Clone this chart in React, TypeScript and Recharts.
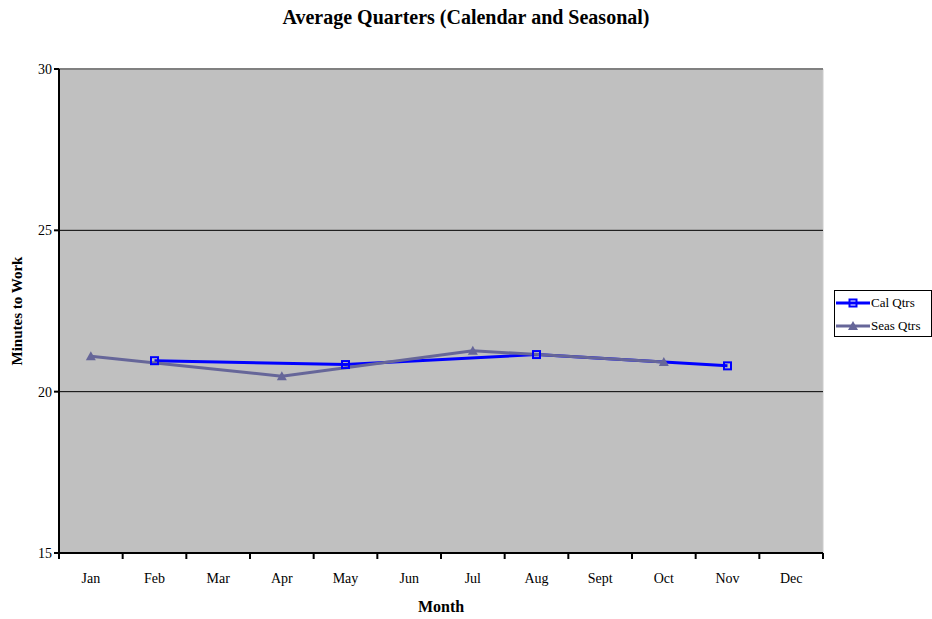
import React from "react";
import { LineChart, Line, XAxis, YAxis, CartesianGrid, ReferenceLine, Label } from "recharts";

const months = ["Jan", "Feb", "Mar", "Apr", "May", "Jun", "Jul", "Aug", "Sept", "Oct", "Nov", "Dec"];
const calQtrs: (number | null)[] = [null, 20.96, null, null, 20.84, null, null, 21.15, null, null, 20.8, null];
const seasQtrs: (number | null)[] = [21.1, null, null, 20.48, null, null, 21.27, null, null, 20.92, null, null];
const yTicks = [15, 20, 25, 30];
const gridValues = [20, 25];

const data = months.map((m, i) => ({ month: m, cal: calQtrs[i], seas: seasQtrs[i] }));

const W = 932;
const H = 619;
const PLOT_LEFT = 59;
const PLOT_RIGHT = 823;
const BAND = (PLOT_RIGHT - PLOT_LEFT) / months.length;

const CAL_COLOR = "#0000ff";
const SEAS_COLOR = "#666699";
const FONT = "'Liberation Serif', 'Times New Roman', serif";

const SquareDot = (props: any) => {
  const { cx, cy, value } = props;
  if (value == null || cx == null || cy == null) return null;
  return <rect x={cx - 3.5} y={cy - 3.5} width={7} height={7} fill="none" stroke={CAL_COLOR} strokeWidth={2} />;
};

const TriangleDot = (props: any) => {
  const { cx, cy, value } = props;
  if (value == null || cx == null || cy == null) return null;
  return <path d={`M${cx},${cy - 5} L${cx + 5},${cy + 4} L${cx - 5},${cy + 4} Z`} fill={SEAS_COLOR} />;
};

const MonthTick = (props: any) => {
  const { x, y, payload, index } = props;
  const left = x - BAND / 2;
  const right = x + BAND / 2;
  return (
    <g>
      <line x1={left} y1={y - 8} x2={left} y2={y - 2} stroke="#000" strokeWidth={2} />
      {index === months.length - 1 && (
        <line x1={right} y1={y - 8} x2={right} y2={y - 2} stroke="#000" strokeWidth={2} />
      )}
      <text x={x} y={y + 22} textAnchor="middle" fontFamily={FONT} fontSize={14} fill="#000">
        {payload.value}
      </text>
    </g>
  );
};

const LegendIcon = ({ color, kind }: { color: string; kind: "square" | "triangle" }) => (
  <svg width={34} height={10} style={{ display: "block" }}>
    <line x1={0} y1={5} x2={34} y2={5} stroke={color} strokeWidth={3} />
    {kind === "square" ? (
      <rect x={13.5} y={1.5} width={7} height={7} fill="none" stroke={color} strokeWidth={2} />
    ) : (
      <path d="M17,0 L22,9 L12,9 Z" fill={color} />
    )}
  </svg>
);

export default function App() {
  return (
    <div style={{ position: "absolute", left: 0, top: 0, width: W, height: H, background: "#fff", fontFamily: FONT }}>
      <div
        style={{
          position: "absolute",
          left: 0,
          top: 6,
          width: W,
          textAlign: "center",
          fontWeight: "bold",
          fontSize: 20,
          color: "#000",
        }}
      >
        Average Quarters (Calendar and Seasonal)
      </div>
      <LineChart width={W} height={H} data={data} margin={{ top: 69, right: W - PLOT_RIGHT, bottom: 0, left: 0 }}>
        <CartesianGrid
          fill="#c0c0c0"
          fillOpacity={1}
          horizontal={false}
          vertical={{ stroke: "#808080", strokeWidth: 2 }}
          verticalCoordinatesGenerator={({ offset }: any) => [offset.left + offset.width]}
        />
        <ReferenceLine y={30} stroke="#808080" strokeWidth={2} />
        {gridValues.map((v) => (
          <ReferenceLine key={v} y={v} stroke="#000" strokeWidth={1} />
        ))}
        <XAxis
          dataKey="month"
          height={66}
          padding={{ left: BAND / 2, right: BAND / 2 }}
          axisLine={{ stroke: "#000", strokeWidth: 2 }}
          tickLine={false}
          tick={<MonthTick />}
          interval={0}
        >
          <Label value="Month" position="insideBottom" offset={7} fontFamily={FONT} fontSize={16} fontWeight="bold" fill="#000" />
        </XAxis>
        <YAxis
          width={PLOT_LEFT}
          domain={[15, 30]}
          ticks={yTicks}
          interval={0}
          axisLine={{ stroke: "#000", strokeWidth: 2 }}
          tickLine={{ stroke: "#000", strokeWidth: 2 }}
          tickSize={5}
          tick={{ fontFamily: FONT, fontSize: 14, fill: "#000" }}
        >
          <Label
            value="Minutes to Work"
            angle={-90}
            position="insideLeft"
            offset={17}
            style={{ textAnchor: "middle" }}
            fontFamily={FONT}
            fontSize={15}
            fontWeight="bold"
            fill="#000"
          />
        </YAxis>
        <Line
          dataKey="cal"
          stroke={CAL_COLOR}
          strokeWidth={3}
          connectNulls
          dot={<SquareDot />}
          activeDot={false}
          isAnimationActive={false}
        />
        <Line
          dataKey="seas"
          stroke={SEAS_COLOR}
          strokeWidth={3}
          connectNulls
          dot={<TriangleDot />}
          activeDot={false}
          isAnimationActive={false}
        />
      </LineChart>
      <div
        style={{
          position: "absolute",
          left: 834,
          top: 290,
          width: 96,
          height: 45,
          border: "1px solid #000",
          background: "#fff",
          fontSize: 13,
          color: "#000",
        }}
      >
        <div style={{ display: "flex", alignItems: "center", position: "absolute", left: 1, top: 4 }}>
          <LegendIcon color={CAL_COLOR} kind="square" />
          <span style={{ marginLeft: 1 }}>Cal Qtrs</span>
        </div>
        <div style={{ display: "flex", alignItems: "center", position: "absolute", left: 1, top: 27 }}>
          <LegendIcon color={SEAS_COLOR} kind="triangle" />
          <span style={{ marginLeft: 1 }}>Seas Qtrs</span>
        </div>
      </div>
    </div>
  );
}
